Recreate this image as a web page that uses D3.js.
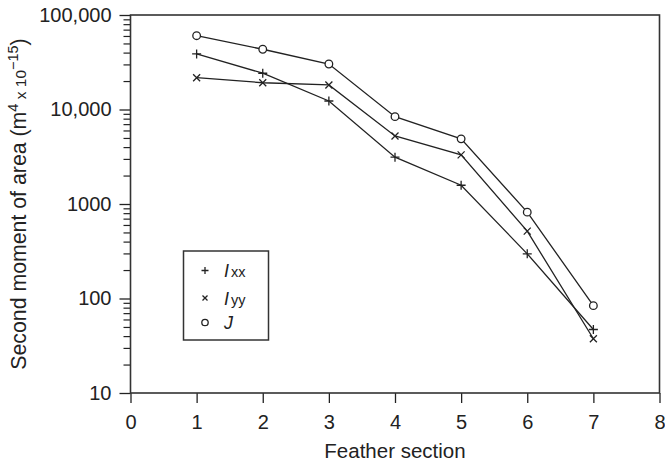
<!DOCTYPE html>
<html>
<head>
<meta charset="utf-8">
<script src="https://cdn.jsdelivr.net/npm/d3@7"></script>
<style>
  body { margin: 0; background: #fff; }
  svg text { font-family: "Liberation Sans", Arial, sans-serif; fill: #222; }
</style>
</head>
<body>
<div id="chart"></div>
<script>
// feather sections (x) and second moments of area (m^4 x 10^-15)
const sections = [1, 2, 3, 4, 5, 6, 7];
const Ixx = [38700, 24200, 12300, 3130, 1580, 297, 47];
const Iyy = [21700, 19200, 18200, 5250, 3310, 516, 37.5];
const J   = [60400, 43400, 30300, 8400, 4890, 820, 84];

const xTicks = [0, 1, 2, 3, 4, 5, 6, 7, 8];
const yTicks = [10, 100, 1000, 10000, 100000];
const yTickLabels = ["10", "100", "1000", "10,000", "100,000"];

const width = 665, height = 465;
const margin = {top: 15, right: 5.5, bottom: 72, left: 130.5};

const svg = d3.select("#chart").append("svg")
    .attr("width", width)
    .attr("height", height);

const x = d3.scaleLinear()
    .domain([0, 8])
    .range([margin.left, width - margin.right]);

const y = d3.scaleLog()
    .domain([10, 100000])
    .range([height - margin.bottom, margin.top]);

const ink = "#222";

// minor ticks on the log axis (2..9 of each decade)
let minor = [];
yTicks.slice(0, -1).forEach(d => {
    for (let k = 2; k <= 9; k++) minor.push(d * k);
});

svg.append("g")
    .attr("transform", `translate(${x(0)},0)`)
    .call(d3.axisLeft(y).tickValues(minor).tickSize(7).tickFormat(""))
    .call(g => g.select(".domain").remove())
    .call(g => g.selectAll(".tick line").attr("stroke", ink).attr("stroke-width", 1.2));

let yAxis = svg.append("g")
    .attr("transform", `translate(${x(0)},0)`)
    .call(d3.axisLeft(y).tickValues(yTicks).tickSize(11).tickSizeOuter(0)
        .tickFormat((d, i) => yTickLabels[i]));
yAxis.select(".domain").remove();
yAxis.selectAll(".tick line").attr("stroke", ink).attr("stroke-width", 1.3);
yAxis.selectAll(".tick text")
    .attr("x", -19)
    .style("font-size", "20px")
    .attr("font-family", null);

let xAxis = svg.append("g")
    .attr("transform", `translate(0,${y(10)})`)
    .call(d3.axisBottom(x).tickValues(xTicks).tickSize(10).tickSizeOuter(0));
xAxis.select(".domain").remove();
xAxis.selectAll(".tick line").attr("stroke", ink).attr("stroke-width", 1.3);
xAxis.selectAll(".tick text")
    .attr("y", 21.5)
    .style("font-size", "20px")
    .attr("font-family", null);

// plot frame
svg.append("rect")
    .attr("x", x(0))
    .attr("y", y(100000))
    .attr("width", x(8) - x(0))
    .attr("height", y(10) - y(100000))
    .attr("fill", "none")
    .attr("stroke", "#333")
    .attr("stroke-width", 1.6);

// axis titles
svg.append("text")
    .attr("x", (x(0) + x(8)) / 2)
    .attr("y", 458)
    .attr("text-anchor", "middle")
    .style("font-size", "20.5px")
    .text("Feather section");

let ylab = svg.append("text")
    .attr("transform", `translate(26,${(y(10) + y(100000)) / 2}) rotate(-90)`)
    .attr("text-anchor", "middle")
    .style("font-size", "21.3px");
ylab.append("tspan").text("Second moment of area (m");
ylab.append("tspan").attr("dy", -8).style("font-size", "14.5px").text("4");
ylab.append("tspan").attr("dy", 8).style("font-size", "15.5px").text(" x 10");
ylab.append("tspan").attr("dy", -8).style("font-size", "14.5px").text("\u221215");
ylab.append("tspan").attr("dy", 8).text(")");

// markers
function drawMarker(g, type, cx, cy, s) {
    if (type === "plus") {
        g.append("path")
            .attr("d", `M${cx - s},${cy}H${cx + s}M${cx},${cy - s}V${cy + s}`)
            .attr("stroke", ink).attr("stroke-width", 1.3).attr("fill", "none");
    } else if (type === "cross") {
        g.append("path")
            .attr("d", `M${cx - s},${cy - s}L${cx + s},${cy + s}M${cx - s},${cy + s}L${cx + s},${cy - s}`)
            .attr("stroke", ink).attr("stroke-width", 1.3).attr("fill", "none");
    } else {
        g.append("circle")
            .attr("cx", cx).attr("cy", cy).attr("r", s)
            .attr("stroke", ink).attr("stroke-width", 1.3).attr("fill", "#fff");
    }
}

const series = [
    {name: "Ixx", values: Ixx, marker: "plus", size: 4.5},
    {name: "Iyy", values: Iyy, marker: "cross", size: 3.5},
    {name: "J", values: J, marker: "circle", size: 3.8}
];

const line = d3.line()
    .x((d, i) => x(sections[i]))
    .y(d => y(d));

series.forEach(s => {
    svg.append("path")
        .datum(s.values)
        .attr("d", line)
        .attr("fill", "none")
        .attr("stroke", ink)
        .attr("stroke-width", 1.3);
});

series.forEach(s => {
    let g = svg.append("g");
    s.values.forEach((v, i) => drawMarker(g, s.marker, x(sections[i]), y(v), s.size));
});

// legend
let legend = svg.append("g");
legend.append("rect")
    .attr("x", 183.5).attr("y", 251)
    .attr("width", 85).attr("height", 89)
    .attr("fill", "#fff")
    .attr("stroke", "#333")
    .attr("stroke-width", 1.5);

const legendRows = [
    {main: "I", sub: "xx", marker: "plus", size: 3.5, y: 270.5},
    {main: "I", sub: "yy", marker: "cross", size: 2.5, y: 298},
    {main: "J", sub: "", marker: "circle", size: 3.2, y: 322.5}
];
legendRows.forEach(r => {
    drawMarker(legend, r.marker, 205, r.y, r.size);
    let t = legend.append("text")
        .attr("x", 224)
        .attr("y", r.y + 6.5)
        .style("font-size", "18px");
    t.append("tspan").style("font-style", "italic").text(r.main);
    if (r.sub) t.append("tspan").attr("dx", 2).style("font-size", "14.5px").text(r.sub);
});
</script>
</body>
</html>
